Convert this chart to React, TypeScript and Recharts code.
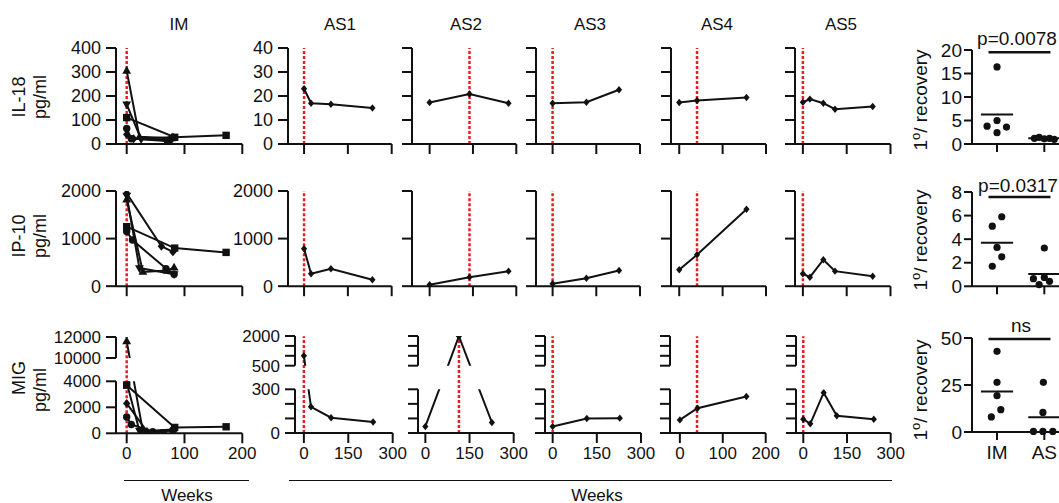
import React from "react";
import { LineChart, Line, XAxis, YAxis, ReferenceLine, ScatterChart, Scatter } from "recharts";

const FONT = '"Liberation Sans", Arial, Helvetica, sans-serif';
const INK = "#111111";
const RED = "#ec1c24";

// IM patients: one marker per patient
const IM_SHAPES = ["circle", "square", "triangle", "triangleDown", "diamond"];

const IM_IL18_WEEKS = [[0, 8, 75], [0, 83, 172], [0, 22, 78], [0, 25, 68], [0, 12, 80]];
const IM_IL18 = [[65, 22, 18], [110, 28, 36], [305, 30, 24], [165, 20, 12], [40, 22, 28]];
const IM_IP10_WEEKS = [[0, 10, 68, 82], [0, 83, 172], [0, 28, 70, 82], [0, 22, 82], [0, 60, 80]];
const IM_IP10 = [[1150, 970, 370, 250], [1250, 800, 710], [1820, 300, 330, 390], [1900, 380, 250], [1950, 840, 720]];
const IM_MIG_WEEKS = [[0, 8, 45, 80], [0, 83, 172], [0, 28, 80], [0, 22, 65], [0, 35, 80]];
const IM_MIG = [[1250, 680, 120, 250], [3700, 450, 500], [11600, 150, 300], [3900, 200, 80], [2300, 150, 200]];

// AS patients
const AS_NAMES = ["AS1", "AS2", "AS3", "AS4", "AS5"];
const AS_WEEKS = [[0, 24, 92, 234], [0, 138, 273], [0, 116, 228], [0, 41, 155], [0, 24, 70, 110, 239]];
const AS_MIG_WEEKS = [[0, 24, 92, 234], [0, 114, 226], [0, 116, 228], [0, 41, 155], [0, 24, 70, 115, 242]];
const AS_START = [0, 138, 0, 41, 0];
const AS_MIG_START = [0, 114, 0, 40, 0];
const AS_IL18 = [[23, 17, 16.6, 15], [17.3, 20.8, 17], [17, 17.4, 22.6], [17.3, 18.1, 19.4], [17.4, 18.7, 17, 14.5, 15.6]];
const AS_IP10 = [[787, 261, 366, 135], [30, 190, 316], [50, 168, 330], [345, 660, 1615], [261, 189, 556, 316, 210]];
const AS_MIG = [[1000, 180, 105, 75], [45, 1990, 72], [45, 100, 102], [90, 170, 250], [95, 63, 277, 118, 95]];

// fold change to recovery, IM vs AS
const GROUP_LABELS = ["", "IM", "AS"];
const R_IL18_IM_X = [1.0, 1.0, 0.79, 1.2, 1.0];
const R_IL18_IM = [16.4, 5.0, 3.8, 3.6, 2.4];
const R_IL18_AS_X = [1.79, 1.89, 2.0, 2.11, 2.21];
const R_IL18_AS = [1.2, 1.4, 1.1, 1.2, 1.0];
const R_IP10_IM_X = [1.1, 0.9, 1.0, 1.1, 0.9];
const R_IP10_IM = [5.9, 5.1, 3.3, 2.5, 1.7];
const R_IP10_AS_X = [2.0, 1.77, 1.89, 2.0, 2.11];
const R_IP10_AS = [3.25, 0.65, 0.15, 0.75, 0.42];
const R_MIG_IM_X = [1.0, 1.0, 1.0, 1.08, 0.88];
const R_MIG_IM = [42.9, 26.4, 19.3, 11.9, 8.0];
const R_MIG_AS_X = [1.98, 1.97, 1.77, 1.97, 2.18];
const R_MIG_AS = [26.4, 10.4, 0.3, 0.3, 0.3];
const R_MEANS = [[6.3, 1.2], [3.7, 1.05], [21.6, 7.8]];
const R_BAR_Y = [19.5, 7.57, 49.5];
const R_PVALUES = ["p=0.0078", "p=0.0317", "ns"];

const AXIS = { stroke: INK, strokeWidth: 2 };
const TICK = { fontSize: 18, fill: INK, fontFamily: FONT };
const TICK_MIG = { fontSize: 17, fill: INK, fontFamily: FONT };
const TICK_RIGHT = { fontSize: 19, fill: INK, fontFamily: FONT };

function Marker({ cx, cy, shape, r }) {
  if (cx == null || cy == null) return null;
  if (shape === "circle") return <circle cx={cx} cy={cy} r={r} fill={INK} />;
  if (shape === "square") return <rect x={cx - r} y={cy - r} width={2 * r} height={2 * r} fill={INK} />;
  if (shape === "triangle")
    return <polygon points={`${cx},${cy - r * 1.3} ${cx + r * 1.2},${cy + r * 0.8} ${cx - r * 1.2},${cy + r * 0.8}`} fill={INK} />;
  if (shape === "triangleDown")
    return <polygon points={`${cx},${cy + r * 1.3} ${cx + r * 1.2},${cy - r * 0.8} ${cx - r * 1.2},${cy - r * 0.8}`} fill={INK} />;
  return <polygon points={`${cx},${cy - r * 1.2} ${cx + r},${cy} ${cx},${cy + r * 1.2} ${cx - r},${cy}`} fill={INK} />;
}

function toPoints(weeks, values, f = (v) => v) {
  return weeks.map((w, i) => ({ week: w, v: f(values[i]) }));
}

function imLines(weeks, values, f) {
  return IM_SHAPES.map((shape, i) => ({ shape, r: 3.7, data: toPoints(weeks[i], values[i], f) }));
}

function asLine(weeks, values, f) {
  return [{ shape: "diamond", r: 3.1, data: toPoints(weeks, values, f) }];
}

// broken y axis: lower part is linear, upper part squeezed, gap hidden
function brokenScale(lowMax, highMin, highMax, lowPx, gapPx, highPx) {
  const unit = lowMax / lowPx;
  const highStart = lowMax + gapPx * unit;
  const k = (highPx * unit) / (highMax - highMin);
  return (v) => {
    if (v <= lowMax) return v;
    if (v >= highMin) return highStart + (v - highMin) * k;
    return lowMax + ((v - lowMax) / (highMin - lowMax)) * gapPx * unit;
  };
}

function renderLines(lines) {
  return lines.map((ln, i) => (
    <Line
      key={i}
      data={ln.data}
      dataKey="v"
      type="linear"
      stroke={INK}
      strokeWidth={2}
      isAnimationActive={false}
      activeDot={false}
      dot={(p) => <Marker key={`d${i}-${p.index}`} cx={p.cx} cy={p.cy} shape={ln.shape} r={ln.r} />}
    />
  ));
}

const Y_W = 90;
const M_R = 8;
const M_R_LABEL = 22;

function TimePanel({ box, xDomain, xTicks, yDomain, yTicks, yLabels, lines, red }) {
  const mt = 10;
  const xH = 14;
  const width = Y_W + (box.r - box.l) + M_R;
  const height = mt + (box.b - box.t) + xH;
  return (
    <div style={{ position: "absolute", left: box.l - Y_W, top: box.t - mt }}>
      <LineChart width={width} height={height} margin={{ top: mt, right: M_R, bottom: 0, left: 0 }}>
        <XAxis type="number" dataKey="week" domain={xDomain} ticks={xTicks} interval={0} tickSize={10} height={xH}
          axisLine={AXIS} tickLine={AXIS} tick={TICK} tickFormatter={() => ""} />
        <YAxis type="number" domain={yDomain} ticks={yTicks} interval={0} tickSize={10} tickMargin={5} width={Y_W}
          axisLine={AXIS} tickLine={AXIS} tick={TICK} tickFormatter={(_, i) => yLabels[i] ?? ""} allowDataOverflow />
        <ReferenceLine x={red} stroke={RED} strokeWidth={2.5} strokeDasharray="3 2" />
        {renderLines(lines)}
      </LineChart>
    </div>
  );
}

function BrokenPanel({ l, r, top, gapTop, gapBottom, bottom, xDomain, xTicks, lowTicks, lowLabels, highTicks, highLabels, scale, lines, red }) {
  const xH = 34;
  const mt = 10;
  const width = Y_W + (r - l) + M_R_LABEL;
  const lowMax = lowTicks[lowTicks.length - 1];
  const highTop = scale(highTicks[highTicks.length - 1]);
  const high = [scale(highTicks[0]), highTop];
  return (
    <>
      <div style={{ position: "absolute", left: l - Y_W, top: top - mt }}>
        <LineChart width={width} height={mt + (bottom - top) + xH}
          margin={{ top: mt + (gapBottom - top), right: M_R_LABEL, bottom: 0, left: 0 }}>
          <XAxis type="number" dataKey="week" domain={xDomain} ticks={xTicks} interval={0} tickSize={10} tickMargin={4}
            height={xH} axisLine={AXIS} tickLine={AXIS} tick={TICK_MIG} />
          <YAxis type="number" domain={[0, lowMax]} ticks={lowTicks} interval={0}
            tickSize={10} tickMargin={5} width={Y_W} axisLine={AXIS} tickLine={AXIS} tick={TICK_MIG}
            tickFormatter={(_, i) => lowLabels[i] ?? ""} allowDataOverflow />
          <ReferenceLine segment={[{ x: red, y: 0 }, { x: red, y: highTop }]} ifOverflow="visible"
            stroke={RED} strokeWidth={2.5} strokeDasharray="3 2" />
          {renderLines(lines)}
        </LineChart>
      </div>
      <div style={{ position: "absolute", left: l - Y_W, top: top - mt }}>
        <LineChart width={width} height={mt + (gapTop - top) + 10} margin={{ top: mt, right: M_R_LABEL, bottom: 10, left: 0 }}>
          <XAxis hide type="number" dataKey="week" domain={xDomain} />
          <YAxis type="number" domain={high} ticks={highTicks.map(scale)} interval={0}
            tickSize={10} tickMargin={5} width={Y_W} axisLine={AXIS} tickLine={AXIS} tick={TICK_MIG}
            tickFormatter={(_, i) => highLabels[i] ?? ""} allowDataOverflow />
          {renderLines(lines)}
        </LineChart>
      </div>
    </>
  );
}

function GroupPanel({ top, bottom, yDomain, yTicks, imX, im, asX, as, mean, barY, showX }) {
  const l = 971.7;
  const r = 1075;
  const mt = 10;
  const xH = showX ? 36 : 12;
  const yW = 60;
  const dot = (p) => <circle cx={p.cx} cy={p.cy} r={3.6} fill={INK} />;
  return (
    <div style={{ position: "absolute", left: l - yW, top: top - mt }}>
      <ScatterChart width={yW + (r - l) + 4} height={mt + (bottom - top) + xH} margin={{ top: mt, right: 4, bottom: 0, left: 0 }}>
        <XAxis type="number" dataKey="x" domain={[0.471, 2.655]} ticks={[1, 2]} interval={0} tickSize={8} tickMargin={6}
          height={xH} axisLine={AXIS} tickLine={AXIS} tick={TICK_RIGHT} tickFormatter={(v) => (showX ? GROUP_LABELS[v] : "")} />
        <YAxis type="number" dataKey="y" domain={yDomain} ticks={yTicks} interval={0} tickSize={8} tickMargin={2} width={yW}
          axisLine={AXIS} tickLine={AXIS} tick={TICK_RIGHT} />
        <ReferenceLine segment={[{ x: 0.66, y: mean[0] }, { x: 1.34, y: mean[0] }]} stroke={INK} strokeWidth={2} />
        <ReferenceLine segment={[{ x: 1.66, y: mean[1] }, { x: 2.34, y: mean[1] }]} stroke={INK} strokeWidth={2} />
        <ReferenceLine segment={[{ x: 0.82, y: barY }, { x: 2.13, y: barY }]} stroke={INK} strokeWidth={2.5} />
        <Scatter data={imX.map((x, i) => ({ x, y: im[i] }))} shape={dot} isAnimationActive={false} />
        <Scatter data={asX.map((x, i) => ({ x, y: as[i] }))} shape={dot} isAnimationActive={false} />
      </ScatterChart>
    </div>
  );
}

function Txt({ x, y, size = 17, rotate = 0, children }) {
  return (
    <div style={{ position: "absolute", left: x, top: y, transform: `translate(-50%, -50%) rotate(${rotate}deg)`,
      fontFamily: FONT, fontSize: size, color: INK, whiteSpace: "nowrap", lineHeight: 1 }}>
      {children}
    </div>
  );
}

const COLS = [{ l: 116, r: 242.3 }, { l: 288, r: 391.7 }, { l: 411.7, r: 516 }, { l: 536, r: 640 }, { l: 670.7, r: 765.7 }, { l: 794.5, r: 890 }];
const COLS_MIG = [{ l: 116, r: 242.3 }, { l: 295, r: 392.7 }, { l: 418.3, r: 514 }, { l: 545, r: 641 }, { l: 670, r: 765.7 }, { l: 796, r: 890.7 }];
const XDOM = [[-18.5, 200], [-55, 300], [-61, 300], [-57, 300], [-19, 200], [-27, 300]];
const XDOM_MIG = [[-18.5, 200], [-30, 300], [-25, 300], [-26, 300], [-23, 200], [-25, 300]];
const XTICKS = [[0, 100, 200], [0, 150, 300], [0, 150, 300], [0, 150, 300], [0, 100, 200], [0, 150, 300]];
const TITLE_X = [179, 340, 466, 590, 717, 841];

export default function App() {
  const imMig = brokenScale(4000, 10000, 12000, 52, 23.3, 21);
  const asMig = brokenScale(300, 500, 2000, 44, 23.6, 29.7);
  const recovery = (
    <span>1<sup style={{ fontSize: 13, verticalAlign: "7px", lineHeight: 0 }}>o</sup>/ recovery</span>
  );

  return (
    <div style={{ position: "absolute", left: 0, top: 0, width: 1059, height: 503, overflow: "hidden", background: "#fff" }}>
      {["IM", ...AS_NAMES].map((t, i) => (
        <Txt key={t} x={TITLE_X[i]} y={24}>{t}</Txt>
      ))}

      <Txt x={19} y={97} rotate={-90} size={18}>IL-18</Txt>
      <Txt x={40} y={97} rotate={-90} size={18}>pg/ml</Txt>
      <Txt x={19} y={236} rotate={-90} size={18}>IP-10</Txt>
      <Txt x={40} y={236} rotate={-90} size={18}>pg/ml</Txt>
      <Txt x={19} y={378} rotate={-90} size={18}>MIG</Txt>
      <Txt x={40} y={390} rotate={-90} size={18}>pg/ml</Txt>

      {/* IL-18 */}
      <TimePanel box={{ ...COLS[0], t: 48, b: 144 }} xDomain={XDOM[0]} xTicks={XTICKS[0]} yDomain={[0, 400]}
        yTicks={[0, 100, 200, 300, 400]} yLabels={["0", "100", "200", "300", "400"]} lines={imLines(IM_IL18_WEEKS, IM_IL18)} red={0} />
      {AS_NAMES.map((n, i) => (
        <TimePanel key={n} box={{ ...COLS[i + 1], t: 48, b: 144 }} xDomain={XDOM[i + 1]} xTicks={XTICKS[i + 1]} yDomain={[0, 40]}
          yTicks={[0, 10, 20, 30, 40]} yLabels={i === 0 ? ["0", "10", "20", "30", "40"] : []}
          lines={asLine(AS_WEEKS[i], AS_IL18[i])} red={AS_START[i]} />
      ))}

      {/* IP-10 */}
      <TimePanel box={{ ...COLS[0], t: 190.5, b: 285.7 }} xDomain={XDOM[0]} xTicks={XTICKS[0]} yDomain={[0, 2000]}
        yTicks={[0, 1000, 2000]} yLabels={["0", "1000", "2000"]} lines={imLines(IM_IP10_WEEKS, IM_IP10)} red={0} />
      {AS_NAMES.map((n, i) => (
        <TimePanel key={n} box={{ ...COLS[i + 1], t: 190.5, b: 285.7 }} xDomain={XDOM[i + 1]} xTicks={XTICKS[i + 1]} yDomain={[0, 2000]}
          yTicks={[0, 1000, 2000]} yLabels={i === 0 ? ["0", "1000", "2000"] : []}
          lines={asLine(AS_WEEKS[i], AS_IP10[i])} red={AS_START[i]} />
      ))}

      {/* MIG, broken axis */}
      <BrokenPanel {...COLS_MIG[0]} top={336.7} gapTop={357.7} gapBottom={381} bottom={433} xDomain={XDOM_MIG[0]} xTicks={XTICKS[0]}
        lowTicks={[0, 2000, 4000]} lowLabels={["0", "2000", "4000"]} highTicks={[10000, 12000]} highLabels={["10000", "12000"]}
        scale={imMig} lines={imLines(IM_MIG_WEEKS, IM_MIG, imMig)} red={0} />
      {AS_NAMES.map((n, i) => (
        <BrokenPanel key={n} {...COLS_MIG[i + 1]} top={336} gapTop={365.7} gapBottom={389.3} bottom={433}
          xDomain={XDOM_MIG[i + 1]} xTicks={XTICKS[i + 1]}
          lowTicks={[0, 100, 200, 300]} lowLabels={i === 0 ? ["0", "", "", "300"] : []}
          highTicks={[500, 1000, 1500, 2000]} highLabels={i === 0 ? ["500", "", "", "2000"] : []}
          scale={asMig} lines={asLine(AS_MIG_WEEKS[i], AS_MIG[i], asMig)} red={AS_MIG_START[i]} />
      ))}

      <div style={{ position: "absolute", left: 124, top: 479.5, width: 125, height: 1.5, background: INK }} />
      <div style={{ position: "absolute", left: 289, top: 479.5, width: 603, height: 1.5, background: INK }} />
      <Txt x={187} y={495}>Weeks</Txt>
      <Txt x={597} y={495}>Weeks</Txt>

      {/* right column */}
      <Txt x={920} y={100} rotate={-90} size={19}>{recovery}</Txt>
      <Txt x={920} y={240} rotate={-90} size={19}>{recovery}</Txt>
      <Txt x={920} y={390} rotate={-90} size={19}>{recovery}</Txt>
      <GroupPanel top={50} bottom={144} yDomain={[0, 20]} yTicks={[0, 5, 10, 15, 20]} imX={R_IL18_IM_X} im={R_IL18_IM}
        asX={R_IL18_AS_X} as={R_IL18_AS} mean={R_MEANS[0]} barY={R_BAR_Y[0]} />
      <GroupPanel top={191.7} bottom={286} yDomain={[0, 8]} yTicks={[0, 2, 4, 6, 8]} imX={R_IP10_IM_X} im={R_IP10_IM}
        asX={R_IP10_AS_X} as={R_IP10_AS} mean={R_MEANS[1]} barY={R_BAR_Y[1]} />
      <GroupPanel top={338.3} bottom={432.3} yDomain={[0, 50]} yTicks={[0, 25, 50]} imX={R_MIG_IM_X} im={R_MIG_IM}
        asX={R_MIG_AS_X} as={R_MIG_AS} mean={R_MEANS[2]} barY={R_BAR_Y[2]} showX />
      <Txt x={1017} y={38} size={19}>{R_PVALUES[0]}</Txt>
      <Txt x={1018} y={185} size={19}>{R_PVALUES[1]}</Txt>
      <Txt x={1021} y={325} size={19}>{R_PVALUES[2]}</Txt>
    </div>
  );
}
